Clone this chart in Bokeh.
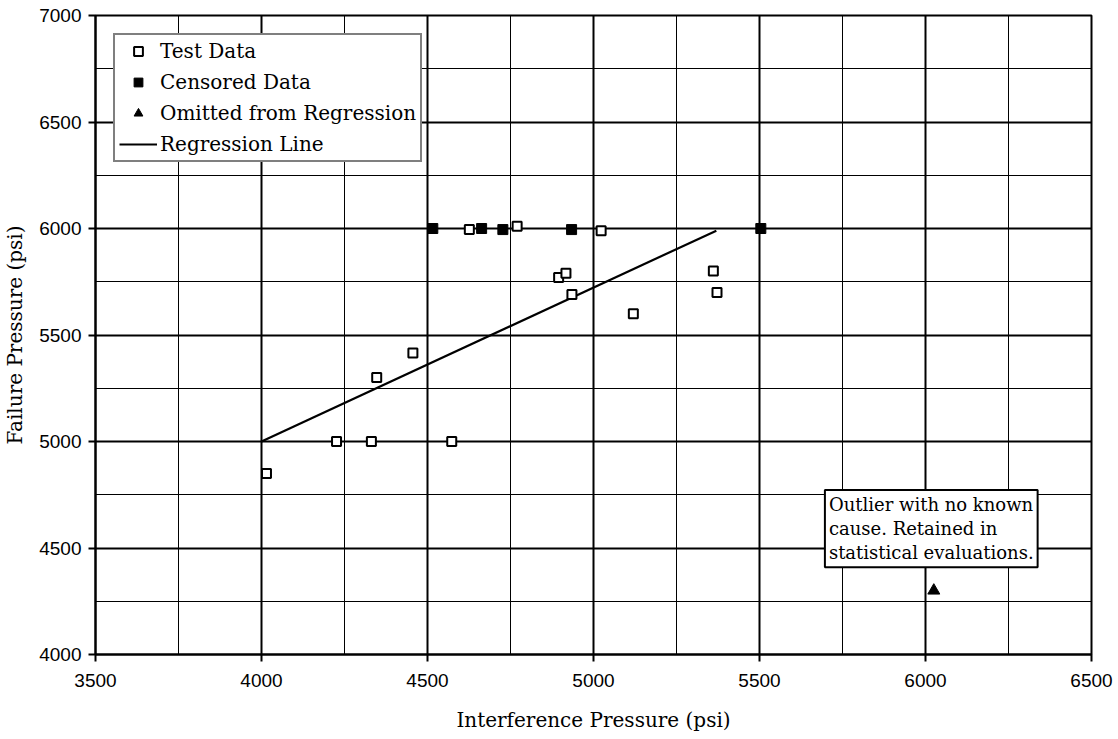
from bokeh.plotting import figure
from bokeh.models import Range1d, SingleIntervalTicker, Legend, LegendItem, Label
from bokeh.embed import file_html
from bokeh.resources import INLINE

# Interference vs. failure pressure (psi)
test_x = [4015, 4226, 4331, 4573, 4347, 4456, 4626, 4770, 5023, 4895, 4917, 4935, 5120, 5361, 5372]
test_y = [4850, 5000, 5000, 5000, 5300, 5415, 5995, 6010, 5990, 5770, 5790, 5690, 5600, 5800, 5700]

censored_x = [4516, 4663, 4727, 4934, 5504]
censored_y = [6000, 6000, 5995, 5995, 6000]

omitted_x = [6025]
omitted_y = [4300]

reg_x = [4000, 5370]
reg_y = [5000, 5990]

SERIF = "DejaVu Serif"
SANS = "Liberation Sans"

p = figure(width=1118, height=739,
           x_range=Range1d(3500, 6500), y_range=Range1d(4000, 7000),
           output_backend="svg", toolbar_location=None,
           min_border_left=94, min_border_right=27,
           min_border_top=15, min_border_bottom=85)

p.background_fill_color = "white"
p.border_fill_color = "white"
p.outline_line_color = "black"
p.outline_line_width = 2

for ax in (p.xaxis[0], p.yaxis[0]):
    ax.ticker = SingleIntervalTicker(interval=500, num_minor_ticks=2)
    ax.axis_line_color = "black"
    ax.axis_line_width = 2
    ax.major_tick_line_color = "black"
    ax.major_tick_line_width = 2
    ax.major_tick_out = 7
    ax.major_tick_in = 0
    ax.minor_tick_out = 0
    ax.minor_tick_in = 0
    ax.major_label_text_font = SANS
    ax.major_label_text_font_size = "19px"
    ax.major_label_text_color = "black"
    ax.axis_label_text_font = SERIF
    ax.axis_label_text_font_size = "20px"
    ax.axis_label_text_font_style = "normal"
    ax.axis_label_text_color = "black"

p.xaxis.axis_label = "Interference Pressure (psi)"
p.yaxis.axis_label = "Failure Pressure (psi)"
p.xaxis.major_label_standoff = 12
p.yaxis.major_label_standoff = 7
p.xaxis.axis_label_standoff = 18
p.yaxis.axis_label_standoff = 9

for g in (p.xgrid[0], p.ygrid[0]):
    g.grid_line_color = "black"
    g.grid_line_width = 2
    g.minor_grid_line_color = "black"
    g.minor_grid_line_width = 1

r_reg = p.line(reg_x, reg_y, line_color="black", line_width=2.2)
r_test = p.scatter(test_x, test_y, marker="square", size=9,
                   fill_color="white", line_color="black", line_width=2)
r_cens = p.scatter(censored_x, censored_y, marker="square", size=10,
                   fill_color="black", line_color="black", line_width=1)
r_omit = p.scatter(omitted_x, omitted_y, marker="triangle", size=12,
                   fill_color="black", line_color="black", line_width=1)

legend = Legend(items=[
    LegendItem(label="Test Data", renderers=[r_test]),
    LegendItem(label="Censored Data", renderers=[r_cens]),
    LegendItem(label="Omitted from Regression", renderers=[r_omit]),
    LegendItem(label="Regression Line", renderers=[r_reg]),
])
legend.location = "top_left"
legend.margin = 18
legend.padding = 4
legend.spacing = 7
legend.glyph_width = 38
legend.glyph_height = 22
legend.label_height = 22
legend.label_standoff = 3
legend.label_text_font = SERIF
legend.label_text_font_size = "20px"
legend.label_text_color = "black"
legend.border_line_color = "black"
legend.border_line_width = 2
legend.background_fill_color = "white"
legend.background_fill_alpha = 1
p.add_layout(legend)

note = Label(x=5697, y=4772, text="Outlier with no known\ncause. Retained in\nstatistical evaluations.",
             text_font=SERIF, text_font_size="18px", text_color="black",
             text_align="left", text_baseline="top", text_line_height=1.15,
             background_fill_color="white", background_fill_alpha=1,
             border_line_color="black", border_line_width=2, padding=4)
p.add_layout(note)

open("out.html", "w").write(file_html(p, INLINE))
